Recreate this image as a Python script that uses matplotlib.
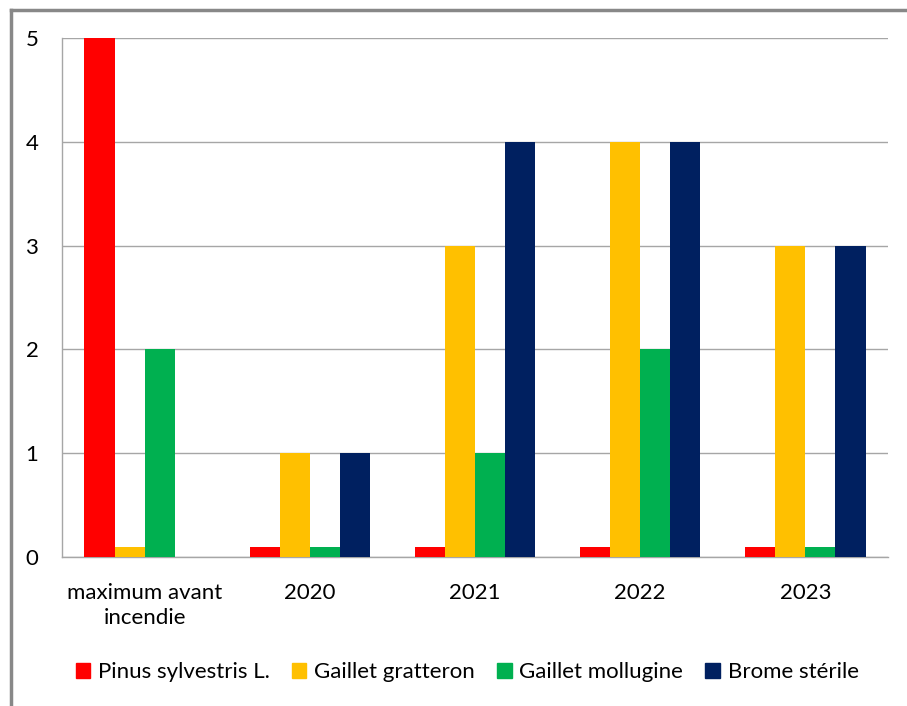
import matplotlib
matplotlib.use("Agg")
import matplotlib.pyplot as plt
from matplotlib.lines import Line2D
from matplotlib.patches import Patch
import numpy as np

plt.rcParams["font.family"] = ["Lato", "DejaVu Sans"]

categories = ["maximum avant\nincendie", "2020", "2021", "2022", "2023"]
series_names = ["Pinus sylvestris L.", "Gaillet gratteron", "Gaillet mollugine", "Brome stérile"]
pinus = [5, 0.1, 0.1, 0.1, 0.1]
gratteron = [0.1, 1, 3, 4, 3]
mollugine = [2, 0.1, 1, 2, 0.1]
brome = [0, 1, 4, 4, 3]
colors = ["#FF0000", "#FFC000", "#00B050", "#002060"]

W, H = 907, 706
fig = plt.figure(figsize=(W / 100, H / 100), dpi=100)
ax = fig.add_axes([62 / W, 1 - 557 / H, (888 - 62) / W, (557 - 38) / H])

x = np.arange(len(categories))
bw = 0.182
for i, (vals, col) in enumerate(zip([pinus, gratteron, mollugine, brome], colors)):
    ax.bar(x + (i - 1.5) * bw, vals, width=bw, color=col, zorder=3)

fs = 16
ax.set_xlim(-0.5, len(categories) - 0.5)
ax.set_ylim(0, 5)
ax.set_yticks(range(6))
ax.set_xticks(x)
ax.set_xticklabels(categories, fontsize=fs, linespacing=1.3)
ax.tick_params(axis="y", labelsize=fs, length=0, pad=17)
ax.tick_params(axis="x", length=0, pad=19)
ax.grid(axis="y", color="#A6A6A6", linewidth=1, zorder=0)
for s in ["top", "right"]:
    ax.spines[s].set_visible(False)
for s in ["left", "bottom"]:
    ax.spines[s].set_color("#A6A6A6")
    ax.spines[s].set_linewidth(1)

handles = [Patch(color=c) for c in colors]
fig.legend(handles, series_names, loc="center", bbox_to_anchor=(0.515, 1 - 672 / H),
           ncol=4, frameon=False, fontsize=fs, handlelength=0.65, handleheight=0.65,
           handletextpad=0.35, columnspacing=1.0)

# outer chart frame (only left and top edges visible)
fig.add_artist(Line2D([11 / W, 11 / W], [0, 1 - 10 / H], color="#888888", linewidth=2.5,
                      transform=fig.transFigure))
fig.add_artist(Line2D([11 / W, 1], [1 - 10 / H, 1 - 10 / H], color="#888888", linewidth=2.5,
                      transform=fig.transFigure))

fig.savefig("out.png", dpi=100)
